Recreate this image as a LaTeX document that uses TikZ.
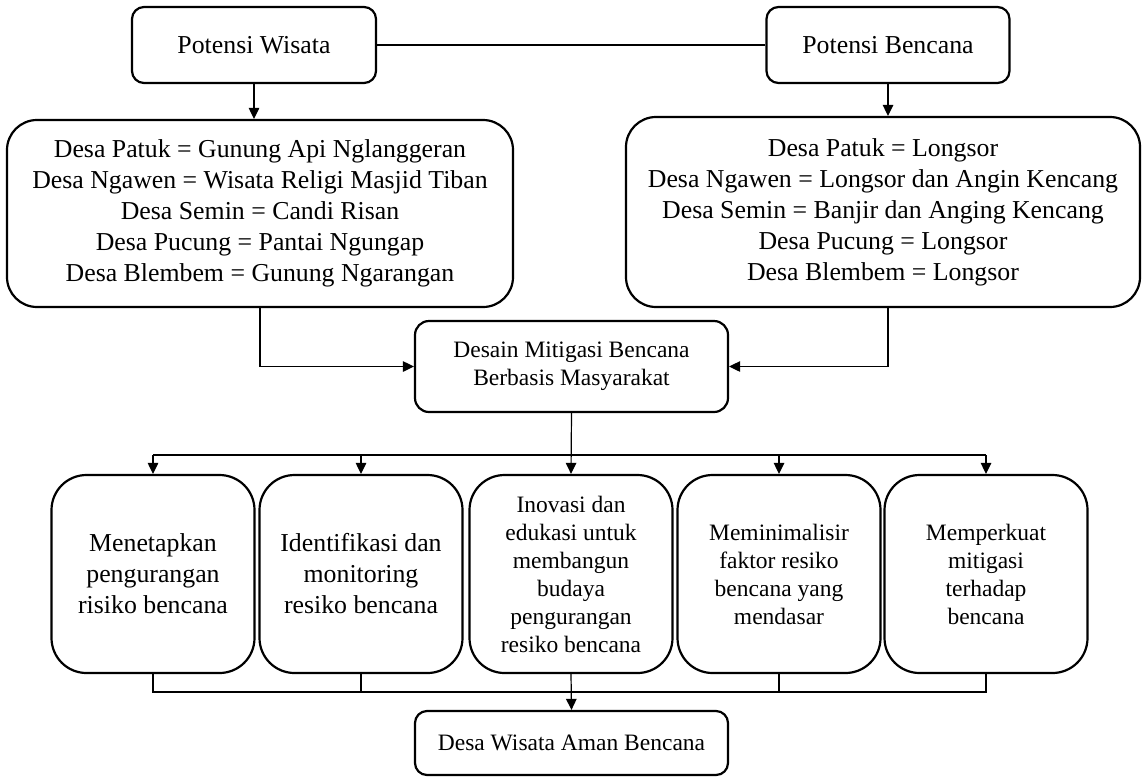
\documentclass[tikz,border=0pt]{standalone}
\usepackage{fontspec}
\setmainfont{Liberation Serif}
\usetikzlibrary{arrows.meta}

\begin{document}
\begin{tikzpicture}[x=1pt,y=1pt,
    kotak/.style={draw,line width=2.2pt,rounded corners=#1,align=center,inner sep=0pt},
    kotak/.default=12pt,
    besar/.style={font=\fontsize{25.8}{31}\selectfont},
    kecil/.style={font=\fontsize{23.5}{28}\selectfont},
    garis/.style={line width=1.2pt},
    panah/.style={line width=1.2pt,-{Triangle[length=11pt,width=10.5pt]}}]
    \useasboundingbox (0,0) rectangle (1142,-782);

        % potensi -- atas
    \node[kotak,besar,minimum width=244pt,minimum height=76pt] (wisata)  at (254,-45) {Potensi Wisata};
    \node[kotak,besar,minimum width=243pt,minimum height=76pt] (bencana) at (888,-45) {Potensi Bencana};

    \node[kotak=30pt,besar,minimum width=506pt,minimum height=187pt] (rinciW) at (260,-213.5)
        {Desa Patuk = Gunung Api Nglanggeran\\Desa Ngawen = Wisata Religi Masjid Tiban\\Desa Semin = Candi Risan\\Desa Pucung = Pantai Ngungap\\Desa Blembem = Gunung Ngarangan};
    \node[kotak=30pt,besar,minimum width=514pt,minimum height=190pt] (rinciB) at (883,-212)
        {Desa Patuk = Longsor\\Desa Ngawen = Longsor dan Angin Kencang\\Desa Semin = Banjir dan Anging Kencang\\Desa Pucung = Longsor\\Desa Blembem = Longsor};

    \node[kotak=14pt,kecil,minimum width=313pt,minimum height=91pt] (desain) at (571.5,-366.5)
        {Desain Mitigasi Bencana\\Berbasis Masyarakat};

        % lima kotak bawah
    \node[kotak=35pt,besar,minimum width=203pt,minimum height=198pt] (k1) at (153,-574) {Menetapkan\\pengurangan\\risiko bencana};
    \node[kotak=35pt,besar,minimum width=203pt,minimum height=198pt] (k2) at (361,-574) {Identifikasi dan\\monitoring\\resiko bencana};
    \node[kotak=35pt,kecil,minimum width=203pt,minimum height=198pt] (k3) at (571,-574) {Inovasi dan\\edukasi untuk\\membangun\\budaya\\pengurangan\\resiko bencana};
    \node[kotak=35pt,kecil,minimum width=203pt,minimum height=198pt] (k4) at (779,-574) {Meminimalisir\\faktor resiko\\bencana yang\\mendasar};
    \node[kotak=35pt,kecil,minimum width=203pt,minimum height=198pt] (k5) at (986,-574) {Memperkuat\\mitigasi\\terhadap\\bencana};

    \node[kotak,kecil,minimum width=313pt,minimum height=64pt] (hasil) at (571.5,-743) {Desa Wisata Aman Bencana};

    \coordinate (atas)  at (0,-455);
    \coordinate (bawah) at (0,-692);

        % penghubung
    \draw[garis] (wisata.east) -- (bencana.west);
    \draw[panah] (wisata.south) -- (wisata.south |- rinciW.north);
    \draw[panah] (bencana.south) -- (bencana.south |- rinciB.north);

    \draw[panah] (rinciW.south) |- (desain.west);
    \draw[panah] (bencana.south |- rinciB.south) |- (desain.east);

    \draw[panah] (desain.south) -- (k3.north);
    \draw[garis] (k1.north |- atas) -- (k5.north |- atas);
    \draw[panah] (k1.north |- atas) -- (k1.north);
    \draw[panah] (k2.north |- atas) -- (k2.north);
    \draw[panah] (k4.north |- atas) -- (k4.north);
    \draw[panah] (k5.north |- atas) -- (k5.north);

    \draw[garis] (k1.south) -- (k1.south |- bawah) -- (k5.south |- bawah) -- (k5.south);
    \draw[garis] (k2.south) -- (k2.south |- bawah);
    \draw[garis] (k4.south) -- (k4.south |- bawah);
    \draw[panah] (k3.south) -- (hasil.north);
\end{tikzpicture}
\end{document}
